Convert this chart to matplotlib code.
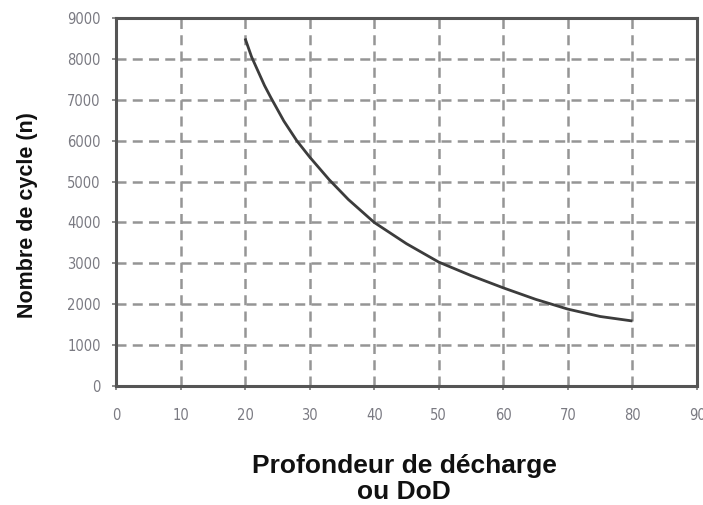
import matplotlib
matplotlib.use('Agg')
import matplotlib.pyplot as plt

# values
dod = [20, 21, 22, 23, 24, 26, 28, 30, 33, 36, 40, 45, 50, 55, 60, 65, 70, 75, 80]
cycles = [8500, 8050, 7700, 7350, 7050, 6480, 6000, 5600, 5050, 4560, 4000, 3480,
          3030, 2700, 2400, 2120, 1880, 1700, 1590]

x_ticks = [0, 10, 20, 30, 40, 50, 60, 70, 80, 90]
y_ticks = [0, 1000, 2000, 3000, 4000, 5000, 6000, 7000, 8000, 9000]

fig = plt.figure(figsize=(7.03, 5.05), dpi=100)
ax = fig.add_axes([116 / 703, 1 - 386 / 505, 581 / 703, 368 / 505])

ax.plot(dod, cycles, color='#3c3c3c', linewidth=2.0, solid_capstyle='butt')

ax.set_xlim(0, 90)
ax.set_ylim(0, 9000)
ax.set_xticks(x_ticks)
ax.set_yticks(y_ticks)
ax.grid(True, color='#959595', linestyle=(0, (4, 2.5)), linewidth=1.8)
ax.set_axisbelow(True)

for side in ['left', 'right', 'top', 'bottom']:
    ax.spines[side].set_color('#555555')
    ax.spines[side].set_linewidth(2.2)

ax.tick_params(axis='both', direction='out', length=3, width=1.2, color='#777777',
               labelcolor='#7a7a82', labelsize=10.5)
ax.tick_params(axis='x', pad=13)
ax.tick_params(axis='y', pad=8)
for lab in ax.get_xticklabels() + ax.get_yticklabels():
    lab.set_stretch('condensed')

fig.text(28 / 703, 1 - 215 / 505, 'Nombre de cycle (n)', rotation=90,
         ha='center', va='center', fontsize=15.5, fontweight='bold',
         family=['Liberation Sans', 'DejaVu Sans'], color='#111111')
fig.text(404 / 703, 1 - 479 / 505, 'Profondeur de décharge\nou DoD',
         ha='center', va='center', fontsize=19, fontweight='bold',
         family=['Liberation Sans', 'DejaVu Sans'], color='#111111',
         linespacing=1.12)

fig.savefig('out.png', dpi=100)
